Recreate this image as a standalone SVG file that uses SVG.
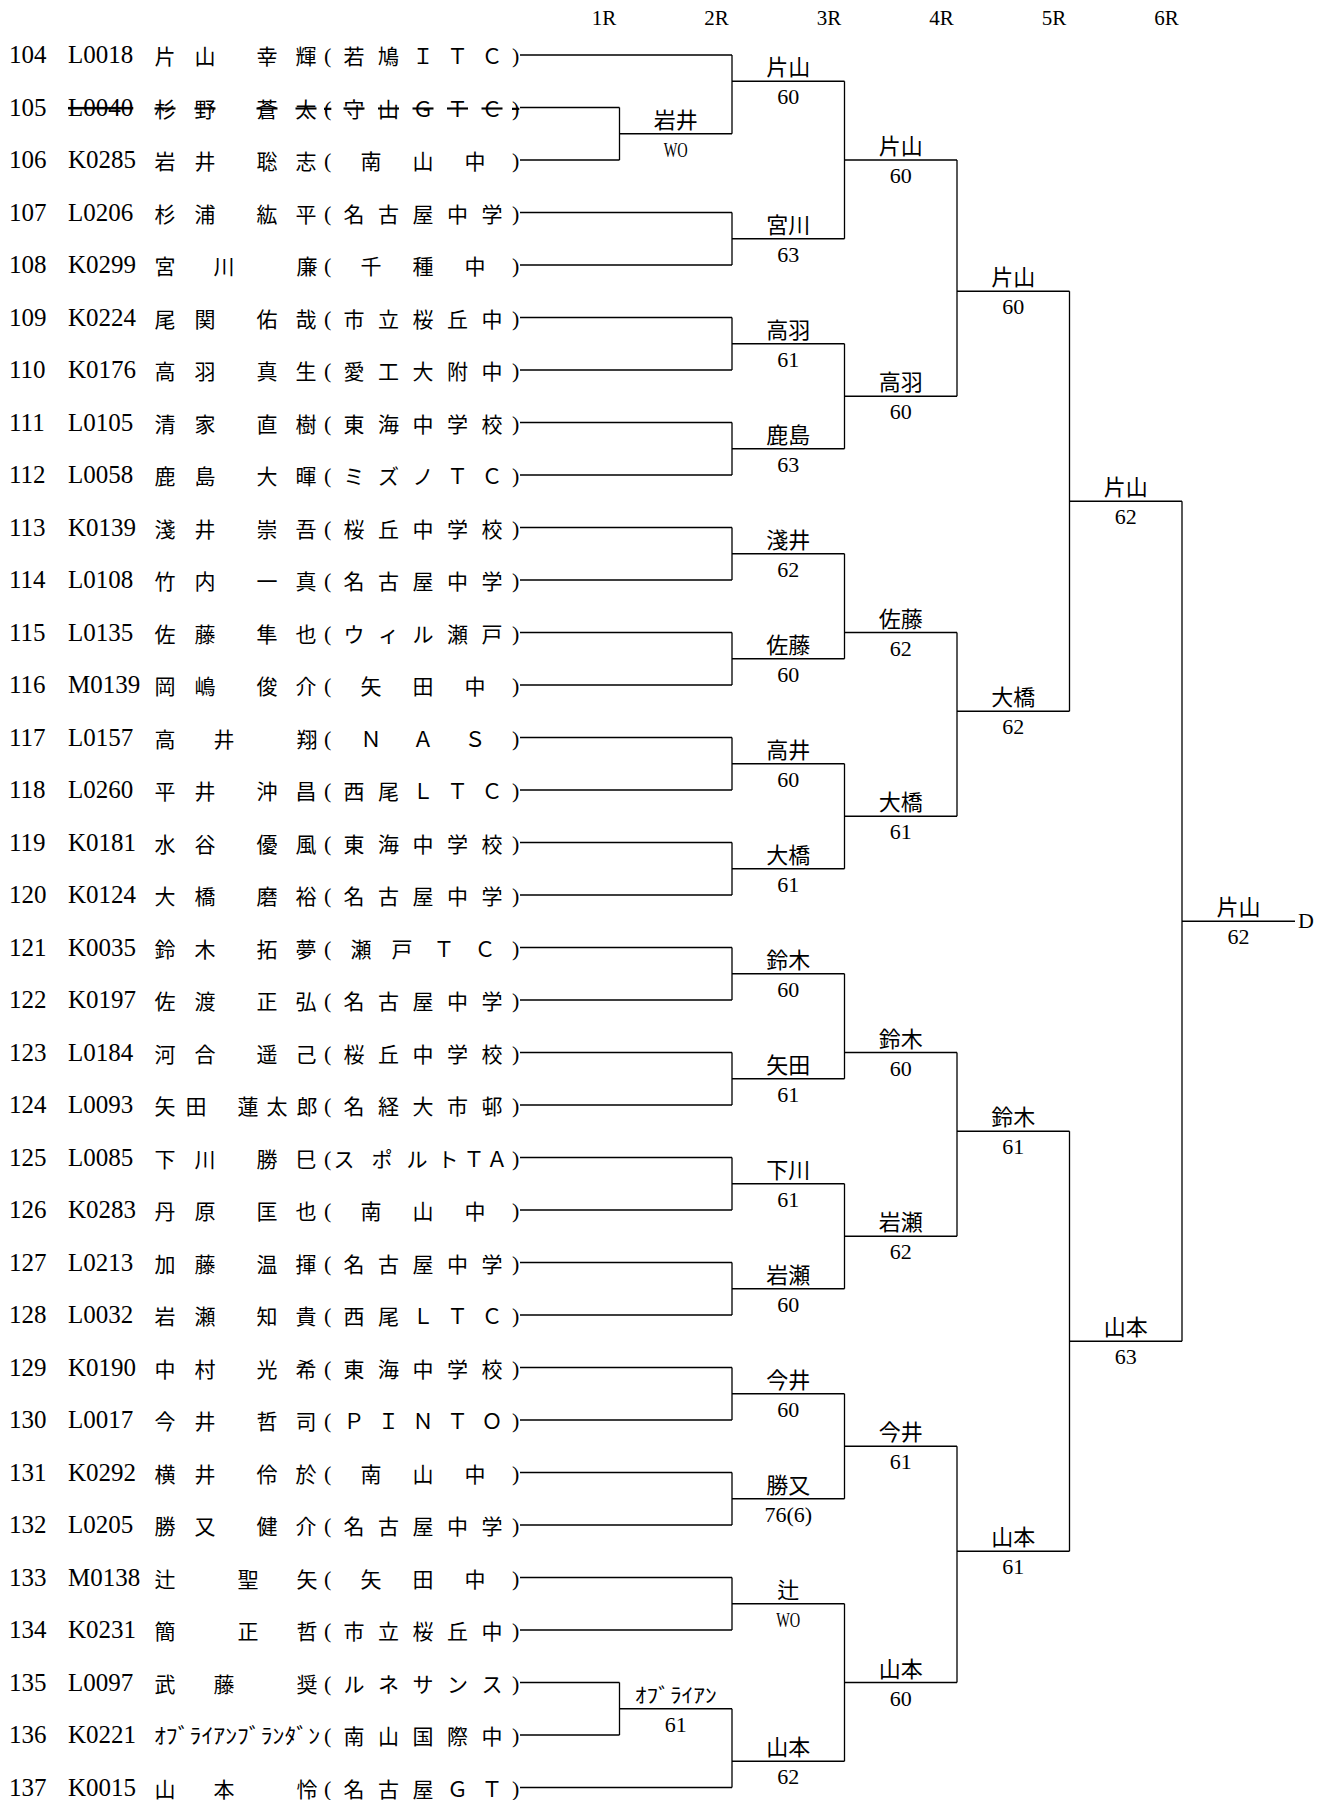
<svg xmlns="http://www.w3.org/2000/svg" width="1320" height="1800" viewBox="0 0 1320 1800">
<style>
.n{font-family:"Liberation Serif",serif;font-size:25px;fill:#000}
.j{font-family:"Noto Sans CJK JP",sans-serif;font-size:21px;text-anchor:middle;fill:#000}
.k{font-family:"Noto Sans CJK JP",sans-serif;font-size:21px;fill:#000}
.p{font-family:"Liberation Serif",serif;font-size:22px;fill:#000}
.w{font-family:"Noto Sans CJK JP",sans-serif;font-size:22px;text-anchor:middle;fill:#000}
.s{font-family:"Liberation Serif",serif;font-size:22px;text-anchor:middle;fill:#000}
.h{font-family:"Liberation Serif",serif;font-size:21px;text-anchor:middle;fill:#000}
.x{text-decoration:line-through}
.c{fill:none;stroke:#000;stroke-width:1.3}
</style>
<rect width="1320" height="1800" fill="#fff"/>
<g id="headers">
<text class="h" x="604" y="25">1R</text>
<text class="h" x="716.5" y="25">2R</text>
<text class="h" x="829" y="25">3R</text>
<text class="h" x="941.5" y="25">4R</text>
<text class="h" x="1054" y="25">5R</text>
<text class="h" x="1166.5" y="25">6R</text>
</g>
<g id="players">
<g id="p104" transform="translate(0 55)"><text class="n" x="9" y="8">104</text><text class="n" x="68" y="8">L0018</text><text class="j" x="165 205 267 306" y="9">片山幸輝</text><text class="p" x="324" y="8">(</text><text class="j" x="354 388.5 423 457.5 492" y="9">若鳩ＩＴＣ</text><text class="p" x="512" y="8">)</text></g>
<g id="p105" transform="translate(0 107.5)"><text class="n" x="9" y="8">105</text><text class="n x" x="68" y="8">L0040</text><text class="j x" x="165 205 267 306" y="9">杉野蒼太</text><text class="p x" x="324" y="8">(</text><text class="j x" x="354 388.5 423 457.5 492" y="9">守山ＧＴＣ</text><text class="p x" x="512" y="8">)</text></g>
<g id="p106" transform="translate(0 160)"><text class="n" x="9" y="8">106</text><text class="n" x="68" y="8">K0285</text><text class="j" x="165 205 267 306" y="9">岩井聡志</text><text class="p" x="324" y="8">(</text><text class="j" x="371 423 475" y="9">南山中</text><text class="p" x="512" y="8">)</text></g>
<g id="p107" transform="translate(0 212.5)"><text class="n" x="9" y="8">107</text><text class="n" x="68" y="8">L0206</text><text class="j" x="165 205 267 306" y="9">杉浦紘平</text><text class="p" x="324" y="8">(</text><text class="j" x="354 388.5 423 457.5 492" y="9">名古屋中学</text><text class="p" x="512" y="8">)</text></g>
<g id="p108" transform="translate(0 265)"><text class="n" x="9" y="8">108</text><text class="n" x="68" y="8">K0299</text><text class="j" x="165 224 307" y="9">宮川廉</text><text class="p" x="324" y="8">(</text><text class="j" x="371 423 475" y="9">千種中</text><text class="p" x="512" y="8">)</text></g>
<g id="p109" transform="translate(0 317.5)"><text class="n" x="9" y="8">109</text><text class="n" x="68" y="8">K0224</text><text class="j" x="165 205 267 306" y="9">尾関佑哉</text><text class="p" x="324" y="8">(</text><text class="j" x="354 388.5 423 457.5 492" y="9">市立桜丘中</text><text class="p" x="512" y="8">)</text></g>
<g id="p110" transform="translate(0 370)"><text class="n" x="9" y="8">110</text><text class="n" x="68" y="8">K0176</text><text class="j" x="165 205 267 306" y="9">高羽真生</text><text class="p" x="324" y="8">(</text><text class="j" x="354 388.5 423 457.5 492" y="9">愛工大附中</text><text class="p" x="512" y="8">)</text></g>
<g id="p111" transform="translate(0 422.5)"><text class="n" x="9" y="8">111</text><text class="n" x="68" y="8">L0105</text><text class="j" x="165 205 267 306" y="9">清家直樹</text><text class="p" x="324" y="8">(</text><text class="j" x="354 388.5 423 457.5 492" y="9">東海中学校</text><text class="p" x="512" y="8">)</text></g>
<g id="p112" transform="translate(0 475)"><text class="n" x="9" y="8">112</text><text class="n" x="68" y="8">L0058</text><text class="j" x="165 205 267 306" y="9">鹿島大暉</text><text class="p" x="324" y="8">(</text><text class="j" x="354 388.5 423 457.5 492" y="9">ミズノＴＣ</text><text class="p" x="512" y="8">)</text></g>
<g id="p113" transform="translate(0 527.5)"><text class="n" x="9" y="8">113</text><text class="n" x="68" y="8">K0139</text><text class="j" x="165 205 267 306" y="9">淺井崇吾</text><text class="p" x="324" y="8">(</text><text class="j" x="354 388.5 423 457.5 492" y="9">桜丘中学校</text><text class="p" x="512" y="8">)</text></g>
<g id="p114" transform="translate(0 580)"><text class="n" x="9" y="8">114</text><text class="n" x="68" y="8">L0108</text><text class="j" x="165 205 267 306" y="9">竹内一真</text><text class="p" x="324" y="8">(</text><text class="j" x="354 388.5 423 457.5 492" y="9">名古屋中学</text><text class="p" x="512" y="8">)</text></g>
<g id="p115" transform="translate(0 632.5)"><text class="n" x="9" y="8">115</text><text class="n" x="68" y="8">L0135</text><text class="j" x="165 205 267 306" y="9">佐藤隼也</text><text class="p" x="324" y="8">(</text><text class="j" x="354 388.5 423 457.5 492" y="9">ウィル瀬戸</text><text class="p" x="512" y="8">)</text></g>
<g id="p116" transform="translate(0 685)"><text class="n" x="9" y="8">116</text><text class="n" x="68" y="8">M0139</text><text class="j" x="165 205 267 306" y="9">岡嶋俊介</text><text class="p" x="324" y="8">(</text><text class="j" x="371 423 475" y="9">矢田中</text><text class="p" x="512" y="8">)</text></g>
<g id="p117" transform="translate(0 737.5)"><text class="n" x="9" y="8">117</text><text class="n" x="68" y="8">L0157</text><text class="j" x="165 224 307" y="9">高井翔</text><text class="p" x="324" y="8">(</text><text class="j" x="371 423 475" y="9">ＮＡＳ</text><text class="p" x="512" y="8">)</text></g>
<g id="p118" transform="translate(0 790)"><text class="n" x="9" y="8">118</text><text class="n" x="68" y="8">L0260</text><text class="j" x="165 205 267 306" y="9">平井沖昌</text><text class="p" x="324" y="8">(</text><text class="j" x="354 388.5 423 457.5 492" y="9">西尾ＬＴＣ</text><text class="p" x="512" y="8">)</text></g>
<g id="p119" transform="translate(0 842.5)"><text class="n" x="9" y="8">119</text><text class="n" x="68" y="8">K0181</text><text class="j" x="165 205 267 306" y="9">水谷優風</text><text class="p" x="324" y="8">(</text><text class="j" x="354 388.5 423 457.5 492" y="9">東海中学校</text><text class="p" x="512" y="8">)</text></g>
<g id="p120" transform="translate(0 895)"><text class="n" x="9" y="8">120</text><text class="n" x="68" y="8">K0124</text><text class="j" x="165 205 267 306" y="9">大橋磨裕</text><text class="p" x="324" y="8">(</text><text class="j" x="354 388.5 423 457.5 492" y="9">名古屋中学</text><text class="p" x="512" y="8">)</text></g>
<g id="p121" transform="translate(0 947.5)"><text class="n" x="9" y="8">121</text><text class="n" x="68" y="8">K0035</text><text class="j" x="165 205 267 306" y="9">鈴木拓夢</text><text class="p" x="324" y="8">(</text><text class="j" x="361 402 444 485" y="9">瀬戸ＴＣ</text><text class="p" x="512" y="8">)</text></g>
<g id="p122" transform="translate(0 1000)"><text class="n" x="9" y="8">122</text><text class="n" x="68" y="8">K0197</text><text class="j" x="165 205 267 306" y="9">佐渡正弘</text><text class="p" x="324" y="8">(</text><text class="j" x="354 388.5 423 457.5 492" y="9">名古屋中学</text><text class="p" x="512" y="8">)</text></g>
<g id="p123" transform="translate(0 1052.5)"><text class="n" x="9" y="8">123</text><text class="n" x="68" y="8">L0184</text><text class="j" x="165 205 267 306" y="9">河合遥己</text><text class="p" x="324" y="8">(</text><text class="j" x="354 388.5 423 457.5 492" y="9">桜丘中学校</text><text class="p" x="512" y="8">)</text></g>
<g id="p124" transform="translate(0 1105)"><text class="n" x="9" y="8">124</text><text class="n" x="68" y="8">L0093</text><text class="j" x="165 196 248 277 307" y="9">矢田蓮太郎</text><text class="p" x="324" y="8">(</text><text class="j" x="354 388.5 423 457.5 492" y="9">名経大市邨</text><text class="p" x="512" y="8">)</text></g>
<g id="p125" transform="translate(0 1157.5)"><text class="n" x="9" y="8">125</text><text class="n" x="68" y="8">L0085</text><text class="j" x="165 205 267 306" y="9">下川勝巳</text><text class="p" x="324" y="8">(</text><text class="j" x="344 382 417 448 474 497" y="9">スポルトＴＡ</text><text class="p" x="512" y="8">)</text></g>
<g id="p126" transform="translate(0 1210)"><text class="n" x="9" y="8">126</text><text class="n" x="68" y="8">K0283</text><text class="j" x="165 205 267 306" y="9">丹原匡也</text><text class="p" x="324" y="8">(</text><text class="j" x="371 423 475" y="9">南山中</text><text class="p" x="512" y="8">)</text></g>
<g id="p127" transform="translate(0 1262.5)"><text class="n" x="9" y="8">127</text><text class="n" x="68" y="8">L0213</text><text class="j" x="165 205 267 306" y="9">加藤温揮</text><text class="p" x="324" y="8">(</text><text class="j" x="354 388.5 423 457.5 492" y="9">名古屋中学</text><text class="p" x="512" y="8">)</text></g>
<g id="p128" transform="translate(0 1315)"><text class="n" x="9" y="8">128</text><text class="n" x="68" y="8">L0032</text><text class="j" x="165 205 267 306" y="9">岩瀬知貴</text><text class="p" x="324" y="8">(</text><text class="j" x="354 388.5 423 457.5 492" y="9">西尾ＬＴＣ</text><text class="p" x="512" y="8">)</text></g>
<g id="p129" transform="translate(0 1367.5)"><text class="n" x="9" y="8">129</text><text class="n" x="68" y="8">K0190</text><text class="j" x="165 205 267 306" y="9">中村光希</text><text class="p" x="324" y="8">(</text><text class="j" x="354 388.5 423 457.5 492" y="9">東海中学校</text><text class="p" x="512" y="8">)</text></g>
<g id="p130" transform="translate(0 1420)"><text class="n" x="9" y="8">130</text><text class="n" x="68" y="8">L0017</text><text class="j" x="165 205 267 306" y="9">今井哲司</text><text class="p" x="324" y="8">(</text><text class="j" x="354 388.5 423 457.5 492" y="9">ＰＩＮＴＯ</text><text class="p" x="512" y="8">)</text></g>
<g id="p131" transform="translate(0 1472.5)"><text class="n" x="9" y="8">131</text><text class="n" x="68" y="8">K0292</text><text class="j" x="165 205 267 306" y="9">横井伶於</text><text class="p" x="324" y="8">(</text><text class="j" x="371 423 475" y="9">南山中</text><text class="p" x="512" y="8">)</text></g>
<g id="p132" transform="translate(0 1525)"><text class="n" x="9" y="8">132</text><text class="n" x="68" y="8">L0205</text><text class="j" x="165 205 267 306" y="9">勝又健介</text><text class="p" x="324" y="8">(</text><text class="j" x="354 388.5 423 457.5 492" y="9">名古屋中学</text><text class="p" x="512" y="8">)</text></g>
<g id="p133" transform="translate(0 1577.5)"><text class="n" x="9" y="8">133</text><text class="n" x="68" y="8">M0138</text><text class="j" x="165 248 307" y="9">辻聖矢</text><text class="p" x="324" y="8">(</text><text class="j" x="371 423 475" y="9">矢田中</text><text class="p" x="512" y="8">)</text></g>
<g id="p134" transform="translate(0 1630)"><text class="n" x="9" y="8">134</text><text class="n" x="68" y="8">K0231</text><text class="j" x="165 248 307" y="9">簡正哲</text><text class="p" x="324" y="8">(</text><text class="j" x="354 388.5 423 457.5 492" y="9">市立桜丘中</text><text class="p" x="512" y="8">)</text></g>
<g id="p135" transform="translate(0 1682.5)"><text class="n" x="9" y="8">135</text><text class="n" x="68" y="8">L0097</text><text class="j" x="165 224 307" y="9">武藤奨</text><text class="p" x="324" y="8">(</text><text class="j" x="354 388.5 423 457.5 492" y="9">ルネサンス</text><text class="p" x="512" y="8">)</text></g>
<g id="p136" transform="translate(0 1735)"><text class="n" x="9" y="8">136</text><text class="n" x="68" y="8">K0221</text><text class="k" x="154" y="8" textLength="166" lengthAdjust="spacingAndGlyphs">ｵﾌﾞﾗｲｱﾝﾌﾞﾗﾝﾀﾞﾝ</text><text class="p" x="324" y="8">(</text><text class="j" x="354 388.5 423 457.5 492" y="9">南山国際中</text><text class="p" x="512" y="8">)</text></g>
<g id="p137" transform="translate(0 1787.5)"><text class="n" x="9" y="8">137</text><text class="n" x="68" y="8">K0015</text><text class="j" x="165 224 307" y="9">山本怜</text><text class="p" x="324" y="8">(</text><text class="j" x="354 388.5 423 457.5 492" y="9">名古屋ＧＴ</text><text class="p" x="512" y="8">)</text></g>
</g>
<g id="connectors" class="c">
<path d="M520 55H732M520 107.5H619.5M520 160H619.5M520 212.5H732M520 265H732M520 317.5H732M520 370H732M520 422.5H732M520 475H732M520 527.5H732M520 580H732M520 632.5H732M520 685H732M520 737.5H732M520 790H732M520 842.5H732M520 895H732M520 947.5H732M520 1000H732M520 1052.5H732M520 1105H732M520 1157.5H732M520 1210H732M520 1262.5H732M520 1315H732M520 1367.5H732M520 1420H732M520 1472.5H732M520 1525H732M520 1577.5H732M520 1630H732M520 1682.5H619.5M520 1735H619.5M520 1787.5H732"/>
<path d="M619.5 107.5V160M619.5 133.75H732M619.5 1682.5V1735M619.5 1708.75H732"/>
<path d="M732 55V133.75M732 81.25H844.5M732 212.5V265M732 238.75H844.5M732 317.5V370M732 343.75H844.5M732 422.5V475M732 448.75H844.5M732 527.5V580M732 553.75H844.5M732 632.5V685M732 658.75H844.5M732 737.5V790M732 763.75H844.5M732 842.5V895M732 868.75H844.5M732 947.5V1000M732 973.75H844.5M732 1052.5V1105M732 1078.75H844.5M732 1157.5V1210M732 1183.75H844.5M732 1262.5V1315M732 1288.75H844.5M732 1367.5V1420M732 1393.75H844.5M732 1472.5V1525M732 1498.75H844.5M732 1577.5V1630M732 1603.75H844.5M732 1708.75V1787.5M732 1761.25H844.5"/>
<path d="M844.5 81.25V238.75M844.5 160H957M844.5 343.75V448.75M844.5 396.25H957M844.5 553.75V658.75M844.5 632.5H957M844.5 763.75V868.75M844.5 816.25H957M844.5 973.75V1078.75M844.5 1052.5H957M844.5 1183.75V1288.75M844.5 1236.25H957M844.5 1393.75V1498.75M844.5 1446.25H957M844.5 1603.75V1761.25M844.5 1682.5H957"/>
<path d="M957 160V396.25M957 291.25H1069.5M957 632.5V816.25M957 711.25H1069.5M957 1052.5V1236.25M957 1131.25H1069.5M957 1446.25V1682.5M957 1551.25H1069.5"/>
<path d="M1069.5 291.25V711.25M1069.5 501.25H1182M1069.5 1131.25V1551.25M1069.5 1341.25H1182"/>
<path d="M1182 501.25V1341.25M1182 921.25H1295"/>
</g>
<g id="results">
<g id="r1a" transform="translate(675.75 133.75)"><text class="w" y="-6">岩井</text><text class="s" y="23" textLength="24" lengthAdjust="spacingAndGlyphs">WO</text></g>
<g id="r1b" transform="translate(675.75 1708.75)"><text class="w" y="-6" style="font-size:20px" textLength="82" lengthAdjust="spacingAndGlyphs">ｵﾌﾞﾗｲｱﾝ</text><text class="s" y="23">61</text></g>
<g id="r2a" transform="translate(788.25 81.25)"><text class="w" y="-6">片山</text><text class="s" y="23">60</text></g>
<g id="r2b" transform="translate(788.25 238.75)"><text class="w" y="-6">宮川</text><text class="s" y="23">63</text></g>
<g id="r2c" transform="translate(788.25 343.75)"><text class="w" y="-6">高羽</text><text class="s" y="23">61</text></g>
<g id="r2d" transform="translate(788.25 448.75)"><text class="w" y="-6">鹿島</text><text class="s" y="23">63</text></g>
<g id="r2e" transform="translate(788.25 553.75)"><text class="w" y="-6">淺井</text><text class="s" y="23">62</text></g>
<g id="r2f" transform="translate(788.25 658.75)"><text class="w" y="-6">佐藤</text><text class="s" y="23">60</text></g>
<g id="r2g" transform="translate(788.25 763.75)"><text class="w" y="-6">高井</text><text class="s" y="23">60</text></g>
<g id="r2h" transform="translate(788.25 868.75)"><text class="w" y="-6">大橋</text><text class="s" y="23">61</text></g>
<g id="r2i" transform="translate(788.25 973.75)"><text class="w" y="-6">鈴木</text><text class="s" y="23">60</text></g>
<g id="r2j" transform="translate(788.25 1078.75)"><text class="w" y="-6">矢田</text><text class="s" y="23">61</text></g>
<g id="r2k" transform="translate(788.25 1183.75)"><text class="w" y="-6">下川</text><text class="s" y="23">61</text></g>
<g id="r2l" transform="translate(788.25 1288.75)"><text class="w" y="-6">岩瀬</text><text class="s" y="23">60</text></g>
<g id="r2m" transform="translate(788.25 1393.75)"><text class="w" y="-6">今井</text><text class="s" y="23">60</text></g>
<g id="r2n" transform="translate(788.25 1498.75)"><text class="w" y="-6">勝又</text><text class="s" y="23">76(6)</text></g>
<g id="r2o" transform="translate(788.25 1603.75)"><text class="w" y="-6">辻</text><text class="s" y="23" textLength="24" lengthAdjust="spacingAndGlyphs">WO</text></g>
<g id="r2p" transform="translate(788.25 1761.25)"><text class="w" y="-6">山本</text><text class="s" y="23">62</text></g>
<g id="r3a" transform="translate(900.75 160)"><text class="w" y="-6">片山</text><text class="s" y="23">60</text></g>
<g id="r3b" transform="translate(900.75 396.25)"><text class="w" y="-6">高羽</text><text class="s" y="23">60</text></g>
<g id="r3c" transform="translate(900.75 632.5)"><text class="w" y="-6">佐藤</text><text class="s" y="23">62</text></g>
<g id="r3d" transform="translate(900.75 816.25)"><text class="w" y="-6">大橋</text><text class="s" y="23">61</text></g>
<g id="r3e" transform="translate(900.75 1052.5)"><text class="w" y="-6">鈴木</text><text class="s" y="23">60</text></g>
<g id="r3f" transform="translate(900.75 1236.25)"><text class="w" y="-6">岩瀬</text><text class="s" y="23">62</text></g>
<g id="r3g" transform="translate(900.75 1446.25)"><text class="w" y="-6">今井</text><text class="s" y="23">61</text></g>
<g id="r3h" transform="translate(900.75 1682.5)"><text class="w" y="-6">山本</text><text class="s" y="23">60</text></g>
<g id="r4a" transform="translate(1013.25 291.25)"><text class="w" y="-6">片山</text><text class="s" y="23">60</text></g>
<g id="r4b" transform="translate(1013.25 711.25)"><text class="w" y="-6">大橋</text><text class="s" y="23">62</text></g>
<g id="r4c" transform="translate(1013.25 1131.25)"><text class="w" y="-6">鈴木</text><text class="s" y="23">61</text></g>
<g id="r4d" transform="translate(1013.25 1551.25)"><text class="w" y="-6">山本</text><text class="s" y="23">61</text></g>
<g id="r5a" transform="translate(1125.75 501.25)"><text class="w" y="-6">片山</text><text class="s" y="23">62</text></g>
<g id="r5b" transform="translate(1125.75 1341.25)"><text class="w" y="-6">山本</text><text class="s" y="23">63</text></g>
<g id="r6" transform="translate(1238.5 921.25)"><text class="w" y="-6">片山</text><text class="s" y="23">62</text></g>
<g id="final"><text class="p" x="1298" y="928">D</text></g>
</g>
</svg>
